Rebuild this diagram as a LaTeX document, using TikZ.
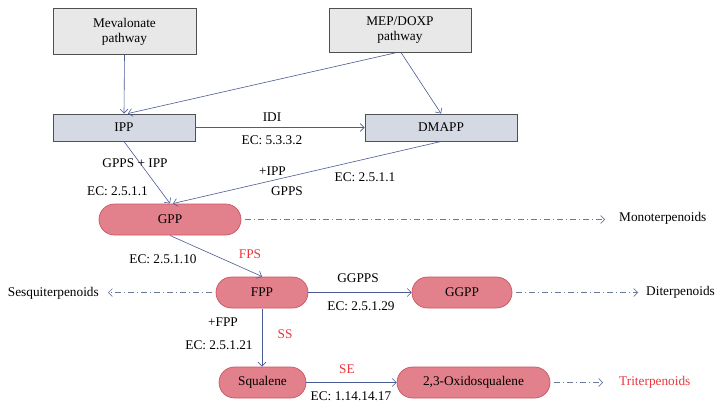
\documentclass[tikz,border=0pt]{standalone}
\usepackage{fontspec}
\setmainfont{Liberation Serif}
\usetikzlibrary{arrows.meta,shapes.misc}
\definecolor{boxfill}{HTML}{E8E8E8}
\definecolor{boxdraw}{HTML}{505050}
\definecolor{ippfill}{HTML}{D4D9E3}
\definecolor{pillfill}{HTML}{E2808B}
\definecolor{pilldraw}{HTML}{CC5563}
\definecolor{arr}{HTML}{4A5A95}
\definecolor{darr}{HTML}{6B7A9A}
\definecolor{redtxt}{HTML}{E8363C}
\begin{document}
\begin{tikzpicture}[x=1pt,y=-1pt,
  every node/.style={font=\fontsize{13.3}{15}\selectfont, text=black},
  grbox/.style={draw=boxdraw, fill=boxfill, line width=0.9pt, minimum width=143pt, minimum height=46pt, align=center, inner sep=0pt},
  molbox/.style={draw=boxdraw, fill=ippfill, line width=0.9pt, minimum height=27pt, inner sep=0pt},
  pill/.style={draw=pilldraw, fill=pillfill, rounded rectangle, line width=0.7pt, minimum height=31pt, inner sep=0pt},
  conn/.style={draw=arr, line width=0.6pt, -{Straight Barb[length=4pt,width=8pt]}},
  dconn/.style={draw=darr, line width=0.6pt, dash pattern=on 6pt off 3pt on 1pt off 3pt, -{Straight Barb[length=4pt,width=8pt]}},
  lbl/.style={inner sep=1pt},
  rlbl/.style={inner sep=1pt, text=redtxt}]
\useasboundingbox (0,0) rectangle (724,407);
% boxes
\node[grbox] (mev) at (124.5,31.5) {Mevalonate\\pathway};
\node[grbox, minimum height=44pt, minimum width=142pt] (mep) at (400,30) {MEP/DOXP\\pathway};
\node[molbox, minimum width=142pt] (ipp) at (124,127.5) {IPP};
\node[molbox, minimum width=152pt] (dmapp) at (441,127.5) {DMAPP};
\node[pill, minimum width=142pt] (gpp) at (170,219.5) {GPP};
\node[pill, minimum width=92pt] (fpp) at (262,292.5) {FPP};
\node[pill, minimum width=100pt] (ggpp) at (462,292.5) {GGPP};
\node[pill, minimum width=87pt] (squ) at (262.5,382.5) {Squalene};
\node[pill, minimum width=153pt] (oxs) at (473.5,382.5) {2,3-Oxidosqualene};
% products
\node[lbl, anchor=west] (mono) at (618,218) {Monoterpenoids};
\node[lbl, anchor=west] (dit) at (645,292) {Diterpenoids};
\node[lbl, anchor=west, text=redtxt] (trit) at (618,382) {Triterpenoids};
\node[lbl, anchor=east] (sesq) at (100,293) {Sesquiterpenoids};
% coordinates
\coordinate (mepb1) at (397,52.5);
\coordinate (mepb2) at (401,52.5);
\coordinate (ippt1) at (124,113.5);
\coordinate (ippt2) at (128,113.5);
\coordinate (ippb) at (124,141.5);
\coordinate (dmt) at (441,113.5);
\coordinate (dmb) at (441,141.5);
\coordinate (gppt1) at (170,203.5);
\coordinate (gppt2) at (173,203.5);
\coordinate (gppb) at (170,235.5);
\coordinate (fppt) at (262,276.5);
\coordinate (fppb) at (262,308.5);
\coordinate (squt) at (262,366.5);
\coordinate (monoend) at (605,219.5);
\coordinate (sesqend) at (108,292.5);
\coordinate (ditend) at (638,292.5);
\coordinate (tritend) at (603,382.5);
% connectors
\draw[conn] (mev.south) -- (ippt1);
\draw[conn] (mepb1) -- (ippt2);
\draw[conn] (mepb2) -- (dmt);
\draw[conn] (ipp.east) -- (dmapp.west);
\draw[conn] (ippb) -- (gppt1);
\draw[conn] (dmb) -- (gppt2);
\draw[conn] (gppb) -- (fppt);
\draw[conn] (fpp.east) -- (ggpp.west);
\draw[conn] (fppb) -- (squt);
\draw[conn] (squ.east) -- (oxs.west);
\draw[dconn] (gpp.east) ++(4,0) -- (monoend);
\draw[dconn] (fpp.west) ++(-4,0) -- (sesqend);
\draw[dconn] (ggpp.east) ++(4,0) -- (ditend);
\draw[dconn] (oxs.east) ++(4,0) -- (tritend);
% labels
\node[lbl] (l1) at (272,117) {IDI};
\node[lbl] (l2) at (272,140) {EC: 5.3.3.2};
\node[lbl] (l3) at (135,163) {GPPS + IPP};
\node[lbl] (l4) at (117.5,191) {EC: 2.5.1.1};
\node[lbl] (l5) at (272.5,171) {+IPP};
\node[lbl] (l6) at (287,191) {GPPS};
\node[lbl] (l7) at (365,177) {EC: 2.5.1.1};
\node[lbl] (l8) at (163,259) {EC: 2.5.1.10};
\node[rlbl] (l9) at (250,254) {FPS};
\node[lbl] (l10) at (358,278) {GGPPS};
\node[lbl] (l11) at (361,306) {EC: 2.5.1.29};
\node[lbl] (l12) at (223,322) {+FPP};
\node[lbl] (l13) at (219,345) {EC: 2.5.1.21};
\node[rlbl] (l14) at (285,334) {SS};
\node[rlbl] (l15) at (347,369) {SE};
\node[lbl] (l16) at (351,396) {EC: 1.14.14.17};
\end{tikzpicture}
\end{document}
